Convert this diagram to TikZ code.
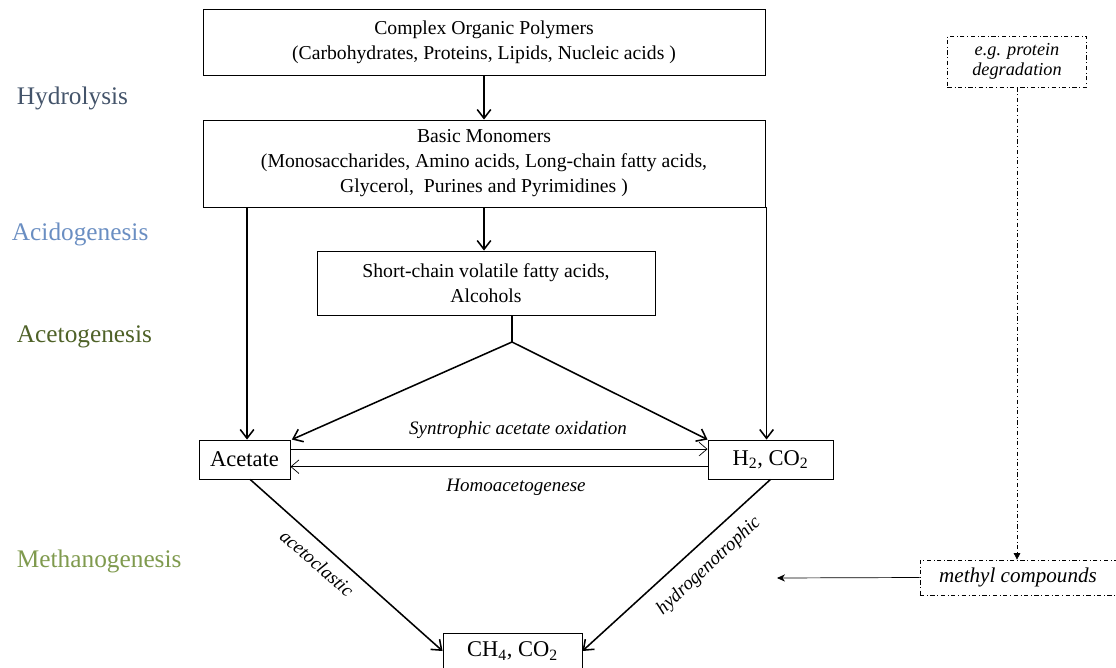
\documentclass[tikz,border=0pt]{standalone}
\usepackage{fontspec}
\setmainfont{Liberation Serif}
\usetikzlibrary{calc,arrows.meta}
\definecolor{hydrocol}{HTML}{44546A}
\definecolor{acidocol}{HTML}{6A8EC2}
\definecolor{acetocol}{HTML}{4F6228}
\definecolor{methacol}{HTML}{7F9A4E}
\tikzset{
  box/.style={draw, line width=0.6pt, align=center, inner sep=0pt, font=\fontsize{14}{17.8}\selectfont},
  smallbox/.style={box, font=\fontsize{16}{18}\selectfont},
  dotbox/.style={draw, dash dot, line width=0.5pt, align=center, inner sep=0pt},
  phase/.style={anchor=west, font=\fontsize{18}{20}\selectfont},
  note/.style={font=\fontsize{13.5}{15}\selectfont\itshape},
  flow/.style={line width=1.1pt, -{Straight Barb[length=2.2mm,width=3.4mm]}},
  thinflow/.style={line width=0.5pt, -{Straight Barb[length=2mm,width=3.4mm]}},
}

\begin{document}
\begin{tikzpicture}[x=0.025cm, y=-0.025cm]
		%%%%% START %%%%%
		\useasboundingbox (0,0) rectangle (1116,668);
		
		% phases
		\node[phase, text=hydrocol] (hydro) at (12,98) {Hydrolysis};
		\node[phase, text=acidocol] (acido) at (7,234) {Acidogenesis};
		\node[phase, text=acetocol] (aceto) at (12,337) {Acetogenesis};
		\node[phase, text=methacol] (metha) at (12,561) {Methanogenesis};
		
		% boxes
		\node[box, minimum width=14.05cm, minimum height=1.65cm] (polymers) at (484,42)
			{Complex Organic Polymers\\(Carbohydrates, Proteins, Lipids, Nucleic acids )};
		\node[box, minimum width=14.05cm, minimum height=2.175cm] (monomers) at (484,163.5)
			{Basic Monomers\\(Monosaccharides, Amino acids, Long-chain fatty acids,\\Glycerol,\ \ Purines and Pyrimidines )};
		\node[box, minimum width=8.45cm, minimum height=1.6cm] (vfa) at (486,283)
			{Short-chain volatile fatty acids,\\Alcohols};
		\node[smallbox, minimum width=2.275cm, minimum height=0.975cm] (acetate) at (244.5,459.5) {Acetate};
		\node[smallbox, minimum width=3.125cm, minimum height=0.975cm] (hydrogen) at (770.5,459.5) {H\textsubscript{2}, CO\textsubscript{2}};
		\node[smallbox, minimum width=3.475cm, minimum height=0.9cm] (methane) at (512.5,651) {CH\textsubscript{4}, CO\textsubscript{2}};
		
		\node[dotbox, minimum width=3.475cm, minimum height=1.275cm, font=\fontsize{13}{14.2}\selectfont\itshape] (protein) at (1017,61.5)
			{e.g. protein\\degradation};
		\node[dotbox, minimum width=4.9cm, minimum height=0.875cm, font=\fontsize{15}{17}\selectfont\itshape] (methyl) at (1018,577.5)
			{methyl compounds};
		
		% main flow
		\draw[flow] (polymers.south) -- (monomers.north);
		\draw[flow] ([xshift=1.8pt]monomers.south -| acetate.north) -- ([xshift=1.8pt]acetate.north);
		\draw[flow] (monomers.south) -- (monomers.south |- vfa.north);
		\draw[flow] ([xshift=-2.8pt]monomers.south -| hydrogen.north) -- ([xshift=-2.8pt]hydrogen.north);
		
		\coordinate (split) at (512,342);
		\draw[line width=1.1pt] (vfa.south -| split) -- (split);
		\draw[flow] (split) -- ([xshift=1pt]acetate.north east);
		\draw[flow] (split) -- (hydrogen.north west);
		
		% acetate <-> hydrogen
		\draw[thinflow] ([yshift=0.26cm]acetate.east) -- ([yshift=0.26cm]hydrogen.west);
		\draw[thinflow] ([yshift=-0.18cm]hydrogen.west) -- ([yshift=-0.18cm]acetate.east);
		\node[note] (sao) at (518,430) {Syntrophic acetate oxidation};
		\node[note] (homo) at (516,487) {Homoacetogenese};
		
		% methanogenesis
		\draw[flow] ([xshift=4pt]acetate.south) -- (methane.west);
		\draw[flow] (hydrogen.south) -- (methane.east);
		\node[note, rotate=-41] (clastic) at (317,563) {acetoclastic};
		\node[note, rotate=43] (trophic) at (709,566) {hydrogenotrophic};
		
		\coordinate (mtarget) at (777,578);
		\draw[line width=0.5pt, -{Stealth[length=2mm,width=1.8mm]}] (methyl.west) -- (mtarget);
		\draw[dash dot, line width=0.5pt, -{Triangle[length=1.6mm,width=1.6mm]}] (protein.south) -- (protein.south |- methyl.north);
		%%%%% END %%%%%
	\end{tikzpicture}
\end{document}
